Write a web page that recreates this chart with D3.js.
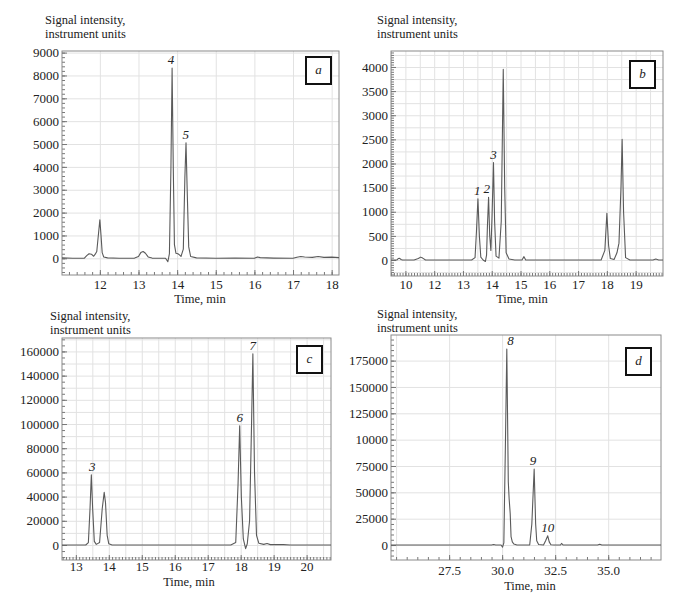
<!DOCTYPE html>
<html>
<head>
<meta charset="utf-8">
<script src="https://cdn.jsdelivr.net/npm/d3@7"></script>
<style>
  body { margin: 0; background: #fff; }
  svg text { font-family: "Liberation Serif", "DejaVu Serif", serif; }
  .grid line { stroke: #e2e2e2; stroke-width: 1; }
  .grid path { display: none; }
  .minor line, .major line { stroke: #777; }
  .minor path, .major path { display: none; }
  .major text { font-size: 13px; fill: #222; }
</style>
</head>
<body>
<svg id="chart" width="685" height="600"></svg>
<script>
var FONT = "'Liberation Serif', 'DejaVu Serif', serif"

// ---- data ----
// panel a
var timeA   = [11.02, 11.3, 11.6, 11.66, 11.72, 11.78, 11.84, 11.88, 11.92, 11.96, 12.0, 12.03, 12.06, 12.1, 12.2, 12.5,
               12.9, 13.0, 13.06, 13.12, 13.18, 13.25, 13.35, 13.7, 13.76, 13.8, 13.84, 13.87, 13.9, 13.93, 13.97, 14.02,
               14.06, 14.1, 14.16, 14.2, 14.23, 14.26, 14.3, 14.35, 14.5, 15.0, 15.5, 16.0, 16.08, 16.15, 16.5, 17.0,
               17.1, 17.2, 17.3, 17.5, 17.65, 17.8, 18.0, 18.19]
var signalA = [20, 0, 10, 120, 200, 180, 90, 180, 300, 1000, 1680, 1000, 250, 60, 20, 0,
               10, 80, 250, 300, 220, 60, 10, 0, -150, 200, 4000, 8320, 4000, 600, 220, 200,
               150, 80, 400, 3500, 5050, 3000, 500, 80, 20, 0, 10, 0, 60, 30, 10, 0,
               50, 80, 60, 40, 80, 40, 50, 30]
var xTicksA = [12, 13, 14, 15, 16, 17, 18]
var xTickLabelsA = ["12", "13", "14", "15", "16", "17", "18"]
var yTicksA = [0, 1000, 2000, 3000, 4000, 5000, 6000, 7000, 8000, 9000]
var yTickLabelsA = ["0", "1000", "2000", "3000", "4000", "5000", "6000", "7000", "8000", "9000"]
var peakNamesA = ["4", "5"]
var peakTimesA = [13.84, 14.22]
var peakValuesA = [8320, 5050]

// panel b
var timeB   = [10.5, 10.7, 10.75, 10.8, 10.85, 10.9, 11.3, 11.45, 11.53, 11.6, 11.7, 13.3, 13.42, 13.47, 13.52, 13.57,
               13.62, 13.7, 13.78, 13.82, 13.85, 13.89, 13.93, 13.97, 14.01, 14.06, 14.1, 14.15, 14.25, 14.33, 14.4, 14.45,
               14.5, 14.6, 14.8, 15.05, 15.12, 15.18, 17.8, 17.93, 18.0, 18.06, 18.12, 18.25, 18.35, 18.42, 18.49, 18.53,
               18.58, 18.65, 18.8, 19.6, 19.7, 19.8, 19.95]
var signalB = [0, 0, 30, 35, 10, 0, 0, 30, 60, 40, 0, 0, 50, 600, 1270, 500,
               60, 0, -30, 100, 700, 1300, 500, 200, 900, 2020, 800, 80, 40, 800, 3950, 1500,
               150, 20, 0, 0, 70, 0, 0, 200, 970, 300, 30, 10, 150, 350, 1500, 2500,
               1000, 50, 0, 0, 20, 0, 0]
var xTicksB = [11, 12, 13, 14, 15, 16, 17, 18, 19]
var xTickLabelsB = ["10", "12", "13", "14", "15", "16", "17", "18", "19"]
var yTicksB = [0, 500, 1000, 1500, 2000, 2500, 3000, 3500, 4000]
var yTickLabelsB = ["0", "500", "1000", "1500", "2000", "2500", "3000", "3500", "4000"]
var peakNamesB = ["1", "2", "3"]
var peakTimesB = [13.5, 13.83, 14.06]
var peakValuesB = [1270, 1300, 2020]

// panel c
var timeC   = [12.58, 13.3, 13.38, 13.43, 13.47, 13.51, 13.56, 13.62, 13.72, 13.8, 13.86, 13.9, 13.95, 14.0, 14.1, 17.7,
               17.85, 17.92, 17.97, 18.02, 18.08, 18.15, 18.2, 18.27, 18.33, 18.37, 18.42, 18.48, 18.55, 18.7, 18.8, 18.9,
               19.3, 19.5, 20.74]
var signalC = [0, 0, 2000, 30000, 58000, 30000, 3000, 500, 2000, 30000, 43500, 35000, 8000, 1000, 0, 0,
               2000, 50000, 98500, 40000, 5000, -3000, 1000, 20000, 100000, 158000, 60000, 8000, 1500, 500, 1200, 300,
               300, 0, 0]
var xTicksC = [13, 14, 15, 16, 17, 18, 19, 20]
var xTickLabelsC = ["13", "14", "15", "16", "17", "18", "19", "20"]
var yTicksC = [0, 20000, 40000, 60000, 80000, 100000, 120000, 140000, 160000]
var yTickLabelsC = ["0", "20000", "40000", "60000", "80000", "100000", "120000", "140000", "160000"]
var peakNamesC = ["3", "6", "7"]
var peakTimesC = [13.5, 17.97, 18.37]
var peakValuesC = [58000, 98500, 158000]

// panel d
var timeD   = [24.76, 29.5, 29.6, 29.7, 29.95, 30.02, 30.08, 30.15, 30.22, 30.29, 30.33, 30.38, 30.42, 30.48, 30.55, 30.7,
               31.3, 31.4, 31.51, 31.58, 31.63, 31.72, 31.95, 32.05, 32.15, 32.22, 32.3, 32.45, 32.75, 32.8, 32.88, 34.5,
               34.6, 34.7, 37.49]
var signalD = [0, 0, 500, 0, 0, -2000, 2000, 90000, 186000, 60000, 44000, 30000, 8000, 3000, 1000, 0,
               0, 20000, 72000, 20000, 4000, 500, 0, 4000, 8800, 3000, 200, 0, 0, 1500, 0, 0,
               800, 0, 0]
var xTicksD = [27.5, 30, 32.5, 35]
var xTickLabelsD = ["27.5", "30.0", "32.5", "35.0"]
var yTicksD = [0, 25000, 50000, 75000, 100000, 125000, 150000, 175000]
var yTickLabelsD = ["0", "25000", "50000", "75000", "10000", "125000", "150000", "175000"]
var peakNamesD = ["8", "9", "10"]
var peakTimesD = [30.4, 31.45, 32.15]
var peakValuesD = [186000, 72000, 8800]

// ---- panel layout ----
var panels = [
  { letter: "a", time: timeA, signal: signalA, xTicks: xTicksA, xLabels: xTickLabelsA, yTicks: yTicksA, yLabels: yTickLabelsA,
    peakNames: peakNamesA, peakTimes: peakTimesA, peakValues: peakValuesA,
    left: 62, right: 339, top: 51, bottom: 275, xDomain: [11.02, 18.19], yDomain: [-730, 9070],
    xGrid: 1, yGrid: 1000, xMinor: 0.2, yMinor: 200, xLabelPad: 5, titleY: 303, titleX: 200,
    ylabX: 45, ylabY: 24, box: [306, 57] },
  { letter: "b", time: timeB, signal: signalB, xTicks: xTicksB, xLabels: xTickLabelsB, yTicks: yTicksB, yLabels: yTickLabelsB,
    peakNames: peakNamesB, peakTimes: peakTimesB, peakValues: peakValuesB,
    left: 391, right: 663, top: 51, bottom: 276, xDomain: [10.5, 19.95], yDomain: [-331, 4331],
    xGrid: 0.5, yGrid: 250, xMinor: 0.1, yMinor: 50, xLabelPad: 4, titleY: 303, titleX: 522,
    ylabX: 377, ylabY: 24, box: [630, 61] },
  { letter: "c", time: timeC, signal: signalC, xTicks: xTicksC, xLabels: xTickLabelsC, yTicks: yTicksC, yLabels: yTickLabelsC,
    peakNames: peakNamesC, peakTimes: peakTimesC, peakValues: peakValuesC,
    left: 62, right: 331, top: 338, bottom: 560, xDomain: [12.58, 20.74], yDomain: [-12400, 171100],
    xGrid: 0.5, yGrid: 10000, xMinor: 0.1, yMinor: 5000, xLabelPad: 2, titleY: 586, titleX: 189,
    ylabX: 50, ylabY: 320, box: [297, 346] },
  { letter: "d", time: timeD, signal: signalD, xTicks: xTicksD, xLabels: xTickLabelsD, yTicks: yTicksD, yLabels: yTickLabelsD,
    peakNames: peakNamesD, peakTimes: peakTimesD, peakValues: peakValuesD,
    left: 391, right: 661, top: 335, bottom: 560, xDomain: [24.76, 37.49], yDomain: [-14200, 199300],
    xGrid: 2.5, yGrid: 25000, xMinor: 0.5, yMinor: 5000, xLabelPad: 6, titleY: 590, titleX: 530,
    ylabX: 377, ylabY: 318, box: [626, 348] }
]

var svg = d3.select("#chart")

function steps(domain, step) {
  var s = Math.ceil(domain[0] / step - 1e-9), e = Math.floor(domain[1] / step + 1e-9)
  return d3.range(s, e + 1).map(function(k) { return +(k * step).toFixed(4) })
}

panels.forEach(function(p, idx) {
  var x = d3.scaleLinear().domain(p.xDomain).range([p.left, p.right])
  var y = d3.scaleLinear().domain(p.yDomain).range([p.bottom, p.top])
  var h = p.bottom - p.top, w = p.right - p.left
  var g = svg.append("g").attr("font-family", FONT)

  // grid
  g.append("g").attr("class", "grid").attr("transform", "translate(0," + p.bottom + ")")
    .call(d3.axisBottom(x).tickValues(steps(p.xDomain, p.xGrid)).tickSize(-h).tickFormat(""))
  g.append("g").attr("class", "grid").attr("transform", "translate(" + p.left + ",0)")
    .call(d3.axisLeft(y).tickValues(steps(p.yDomain, p.yGrid)).tickSize(-w).tickFormat(""))

  // minor ticks
  g.append("g").attr("class", "minor").attr("transform", "translate(0," + p.bottom + ")")
    .call(d3.axisBottom(x).tickValues(steps(p.xDomain, p.xMinor)).tickSize(-3).tickFormat(""))
  g.append("g").attr("class", "minor").attr("transform", "translate(" + p.left + ",0)")
    .call(d3.axisLeft(y).tickValues(steps(p.yDomain, p.yMinor)).tickSize(-3).tickFormat(""))

  // frame
  g.append("rect").attr("x", p.left).attr("y", p.top).attr("width", w).attr("height", h)
    .attr("fill", "none").attr("stroke", "#8a8a8a").attr("stroke-width", 1)

  // major ticks + labels
  g.append("g").attr("class", "major").attr("transform", "translate(0," + p.bottom + ")")
    .call(d3.axisBottom(x).tickValues(p.xTicks).tickSize(-5).tickPadding(p.xLabelPad)
      .tickFormat(function(d, i) { return p.xLabels[i] }))
    .attr("font-family", FONT).attr("font-size", 13)
  g.append("g").attr("class", "major").attr("transform", "translate(" + p.left + ",0)")
    .call(d3.axisLeft(y).tickValues(p.yTicks).tickSize(-5).tickPadding(3)
      .tickFormat(function(d, i) { return p.yLabels[i] }))
    .attr("font-family", FONT).attr("font-size", 13)

  // trace
  var clipId = "clip" + idx
  g.append("clipPath").attr("id", clipId).append("rect")
    .attr("x", p.left).attr("y", p.top).attr("width", w).attr("height", h)
  var pts = p.time.map(function(t, i) { return [t, p.signal[i]] })
  g.append("path").datum(pts)
    .attr("clip-path", "url(#" + clipId + ")")
    .attr("fill", "none").attr("stroke", "#5a5a5a").attr("stroke-width", 1.1)
    .attr("stroke-linejoin", "round")
    .attr("d", d3.line().x(function(d) { return x(d[0]) }).y(function(d) { return y(d[1]) }))

  // peak numbers
  g.selectAll("text.peak").data(p.peakNames).enter().append("text")
    .attr("class", "peak")
    .attr("x", function(d, i) { return x(p.peakTimes[i]) })
    .attr("y", function(d, i) { return y(p.peakValues[i]) - 4 })
    .attr("text-anchor", "middle").attr("font-style", "italic").attr("font-size", 13).attr("fill", "#222")
    .attr("font-family", FONT)
    .text(function(d) { return d })

  // letter box
  g.append("rect").attr("x", p.box[0]).attr("y", p.box[1]).attr("width", 25).attr("height", 27)
    .attr("fill", "#fff").attr("stroke", "#111").attr("stroke-width", 2)
  g.append("text").attr("x", p.box[0] + 12.5).attr("y", p.box[1] + 17)
    .attr("text-anchor", "middle").attr("font-style", "italic").attr("font-size", 13).attr("fill", "#222")
    .attr("font-family", FONT)
    .text(p.letter)

  // titles
  var yt = g.append("text").attr("font-size", 12.5).attr("fill", "#222").attr("font-family", FONT)
  yt.append("tspan").attr("x", p.ylabX).attr("y", p.ylabY).text("Signal intensity,")
  yt.append("tspan").attr("x", p.ylabX).attr("y", p.ylabY + 14).text("instrument units")
  g.append("text").attr("x", p.titleX).attr("y", p.titleY).attr("text-anchor", "middle")
    .attr("font-size", 12.5).attr("fill", "#222").attr("font-family", FONT).text("Time, min")
})
</script>
</body>
</html>
